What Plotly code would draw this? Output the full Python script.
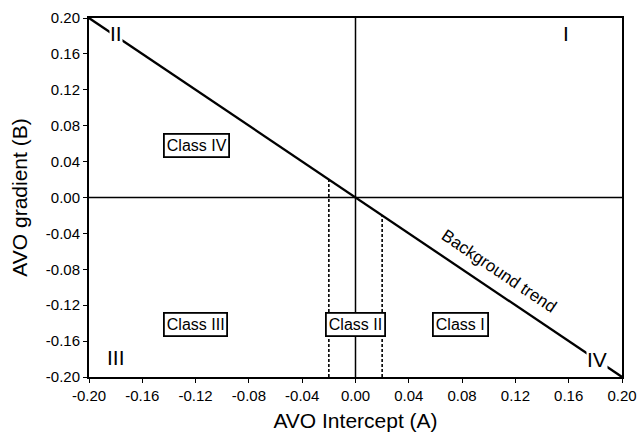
import plotly.graph_objects as go

# Data
trend_x = [-0.20, 0.20]
trend_y = [0.20, -0.20]
cut_x = [-0.02, 0.02]
cut_top = [0.02, -0.02]
axis_min, axis_max = -0.20, 0.20
tick_vals = [-0.20, -0.16, -0.12, -0.08, -0.04, 0.00, 0.04, 0.08, 0.12, 0.16, 0.20]
tick_text = ["%.2f" % v for v in tick_vals]
class_labels = ["Class IV", "Class III", "Class II", "Class I"]
class_x = [-0.119, -0.12, 0.0, 0.079]
class_y = [0.0585, -0.1415, -0.1415, -0.141]
quad_labels = ["I", "II", "III", "IV"]
quad_x = [0.158, -0.180, -0.180, 0.181]
quad_y = [0.183, 0.183, -0.178, -0.181]

FONT = "Liberation Sans, Arial, Helvetica, sans-serif"

fig = go.Figure()

# crosshair
fig.add_trace(go.Scatter(x=[0, 0], y=[axis_min, axis_max], mode="lines",
                         line=dict(color="black", width=1.5), hoverinfo="skip"))
fig.add_trace(go.Scatter(x=[axis_min, axis_max], y=[0, 0], mode="lines",
                         line=dict(color="black", width=1.5), hoverinfo="skip"))
# dashed cutoffs
for cx, ct in zip(cut_x, cut_top):
    fig.add_trace(go.Scatter(x=[cx, cx], y=[axis_min, ct], mode="lines",
                             line=dict(color="black", width=1.6, dash="3px,2px"),
                             hoverinfo="skip"))
# background trend
fig.add_trace(go.Scatter(x=trend_x, y=trend_y, mode="lines",
                         line=dict(color="black", width=2.3), hoverinfo="skip"))

annotations = []
for t, x, y in zip(class_labels, class_x, class_y):
    annotations.append(dict(x=x, y=y, text=t, showarrow=False,
                            font=dict(family=FONT, size=16, color="black"),
                            bgcolor="white", bordercolor="black", borderwidth=1.8,
                            borderpad=2))
for t, x, y in zip(quad_labels, quad_x, quad_y):
    annotations.append(dict(x=x, y=y, text=t, showarrow=False,
                            font=dict(family=FONT, size=21, color="black"),
                            bgcolor="white", borderpad=0))
annotations.append(dict(x=0.108, y=-0.082, text="Background trend", showarrow=False,
                        textangle=34, font=dict(family=FONT, size=17, color="black")))

axis_common = dict(range=[axis_min, axis_max], tickvals=tick_vals, ticktext=tick_text,
                   showgrid=False, zeroline=False, showline=True, linecolor="black",
                   linewidth=2, mirror=True, ticks="outside", ticklen=4, tickwidth=1.3,
                   tickcolor="black", automargin=False,
                   tickfont=dict(family=FONT, size=15, color="black"))

fig.update_layout(
    width=639, height=434,
    margin=dict(l=89, r=17, t=18, b=57),
    plot_bgcolor="white", paper_bgcolor="white",
    showlegend=False,
    annotations=annotations,
    xaxis=dict(**axis_common,
               title=dict(text="AVO Intercept (A)", font=dict(family=FONT, size=21, color="black"),
                          standoff=10)),
    yaxis=dict(**axis_common,
               title=dict(text="AVO gradient (B)", font=dict(family=FONT, size=21, color="black"),
                          standoff=12)),
)

fig.write_html("out.html")
